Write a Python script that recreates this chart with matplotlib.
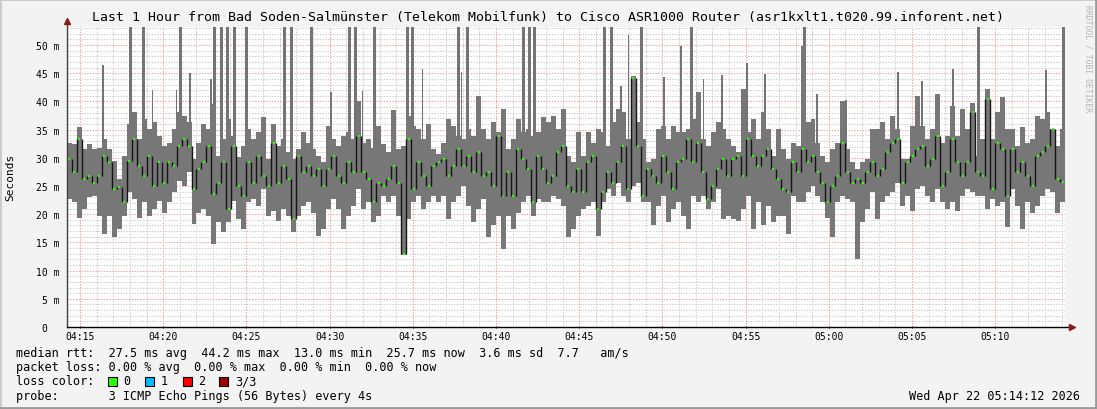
"""SmokePing style latency chart, last hour, Bad Soden-Salmünster -> ASR1000."""
import matplotlib

matplotlib.use("Agg")
import matplotlib.pyplot as plt
from matplotlib.patches import Rectangle
from matplotlib.lines import Line2D
import numpy as np

plt.rcParams["font.family"] = ["DejaVu Sans Mono", "DejaVu Sans"]

# one sample = 18 s (0.3 min), values in ms
hi = [32.7, 32.4, 35.4, 31.6, 32.4, 31.6, 31.8, 33.3, 31.6, 29.5, 26.2, 30.4, 36.0, 38.1, 33.3, 36.9, 35.1,
      36.3, 33.9, 32.1, 32.7, 35.1, 38.1, 37.5, 36.3, 29.8, 32.7, 36.0, 35.1, 39.5, 30.4, 33.3, 36.9,
      33.9, 30.1, 32.1, 35.1, 33.3, 34.5, 37.2, 29.8, 36.0, 32.1, 33.3, 31.0, 29.8, 31.6, 34.5, 32.7,
      31.6, 30.4, 29.2, 35.7, 33.3, 32.1, 33.9, 34.5, 33.3, 40.1, 32.7, 33.3, 31.8, 35.7, 32.4, 31.0, 38.4,
      31.6, 32.1, 37.5, 35.7, 35.1, 33.3, 36.0, 31.6, 30.7, 32.7, 36.9, 35.7, 33.9, 33.3, 35.1, 33.9,
      41.0, 35.1, 33.3, 36.3, 34.5, 38.7, 31.6, 33.3, 36.9, 34.5, 35.1, 33.9, 34.5, 37.2, 36.3, 37.5, 35.1,
      38.7, 30.4, 29.2, 34.5, 30.4, 34.5, 32.7, 35.1, 34.5, 32.1, 36.3, 38.7, 38.1, 33.3, 44.5, 36.3,
      33.3, 29.2, 29.8, 35.1, 35.7, 33.3, 35.7, 34.5, 34.5, 35.1, 36.9, 41.6, 33.3, 32.1, 34.5, 36.3, 35.1, 33.3,
      32.1, 31.0, 42.2, 34.5, 36.9, 33.3, 38.1, 35.1, 30.4, 35.1, 31.6, 29.8, 32.7, 32.1, 49.9, 36.3,
      36.9, 32.7, 30.4, 29.2, 31.6, 32.7, 40.1, 31.6, 29.2, 28.0, 29.2, 29.8, 35.1, 35.1, 36.3, 33.3, 37.5, 35.1,
      29.8, 29.8, 35.7, 41.0, 35.7, 33.3, 35.1, 41.3, 32.7, 33.9, 39.2, 33.9, 38.7, 35.1, 39.8, 30.4,
      33.3, 42.2, 33.3, 38.1, 40.7, 35.1, 35.1, 32.1, 35.4, 32.7, 33.3, 37.5, 36.9, 38.1, 35.1, 32.1, 35.1]
lo = [22.7, 22.1, 19.4, 20.9, 23.0, 23.3, 19.7, 16.5, 19.7, 15.9, 17.4, 19.7, 23.9, 22.7, 19.4, 22.1, 19.7,
      20.9, 22.4, 20.3, 22.1, 23.9, 25.9, 25.0, 27.4, 18.3, 20.3, 20.9, 19.7, 14.7, 18.6, 16.8, 18.6,
      22.4, 19.2, 17.4, 22.1, 22.7, 21.5, 24.5, 19.7, 20.6, 18.8, 20.9, 19.7, 16.8, 19.7, 21.5, 22.1,
      20.3, 16.2, 17.4, 20.9, 22.7, 20.9, 17.4, 19.7, 21.5, 24.5, 20.9, 22.1, 18.6, 19.7, 23.3, 22.1, 23.3,
      19.7, 12.7, 19.2, 22.1, 23.3, 20.9, 22.1, 23.3, 22.1, 23.3, 19.2, 22.1, 23.3, 25.0, 21.5, 18.6,
      20.9, 22.7, 15.9, 18.0, 19.7, 13.8, 19.7, 17.4, 20.3, 22.1, 23.3, 19.7, 22.7, 22.1, 22.1, 23.3, 22.7,
      21.5, 15.9, 17.4, 19.7, 20.9, 21.5, 22.1, 16.2, 22.1, 24.5, 23.3, 25.6, 23.3, 22.1, 25.0, 25.6,
      22.1, 22.1, 18.0, 21.5, 23.3, 18.6, 20.9, 22.1, 19.7, 17.4, 23.3, 22.1, 23.3, 20.9, 22.1, 24.5, 19.2, 19.7,
      19.2, 18.8, 20.9, 23.3, 17.4, 22.1, 18.0, 21.5, 18.6, 19.7, 19.7, 16.5, 23.3, 22.1, 22.1, 23.9,
      25.0, 23.3, 22.1, 19.4, 15.9, 22.1, 23.3, 22.7, 22.1, 12.1, 18.6, 20.9, 23.9, 19.2, 22.1, 23.3, 23.9, 25.6,
      21.5, 23.3, 20.6, 24.5, 25.0, 23.3, 22.1, 24.5, 22.1, 20.9, 22.1, 20.6, 23.3, 24.5, 23.9, 23.3,
      23.3, 20.9, 22.7, 21.5, 22.1, 17.7, 24.5, 21.5, 17.4, 22.1, 20.3, 21.5, 23.3, 24.5, 23.9, 20.3, 22.1]
med = [29.8, 27.4, 33.3, 26.2, 26.8, 25.6, 26.8, 30.4, 29.2, 24.5, 24.8, 22.1, 29.5, 33.3, 28.6, 26.8, 30.4,
       25.0, 29.2, 25.6, 29.2, 28.6, 32.1, 33.3, 32.1, 24.5, 28.0, 29.2, 32.1, 23.6, 25.6, 29.2, 20.9,
       32.1, 25.0, 23.3, 29.2, 25.6, 30.4, 26.8, 25.0, 32.7, 25.6, 28.6, 26.2, 19.2, 30.4, 27.4, 28.6,
       26.8, 28.0, 25.0, 28.0, 30.4, 26.8, 25.6, 29.2, 27.4, 33.9, 27.4, 26.2, 22.1, 25.6, 25.0, 26.2, 28.6,
       25.6, 13.0, 33.3, 24.5, 29.2, 26.8, 25.0, 28.6, 29.2, 29.8, 26.8, 28.6, 31.6, 28.6, 30.4, 27.4,
       31.0, 26.8, 27.4, 25.0, 33.9, 23.3, 27.4, 23.3, 31.6, 29.8, 28.0, 22.1, 30.4, 28.0, 25.6, 26.8, 31.0,
       32.1, 25.0, 23.9, 28.0, 23.9, 29.2, 30.4, 20.9, 23.9, 27.4, 25.6, 29.2, 32.1, 24.5, 44.2, 32.1,
       23.3, 28.0, 26.8, 25.6, 30.4, 27.4, 24.5, 29.2, 29.8, 33.3, 29.2, 32.7, 27.4, 22.7, 25.0, 28.0, 29.8, 26.8,
       29.8, 30.4, 26.8, 33.3, 30.4, 28.6, 30.4, 31.6, 28.0, 26.2, 24.5, 23.9, 29.2, 27.4, 31.6, 29.2,
       30.4, 27.4, 25.6, 22.1, 25.0, 26.8, 32.7, 27.4, 25.6, 26.2, 25.6, 27.4, 29.2, 26.8, 28.0, 31.0, 32.7, 33.3,
       25.6, 29.2, 30.4, 31.6, 32.1, 28.6, 29.8, 33.9, 25.0, 27.4, 33.3, 29.2, 26.8, 29.2, 38.1, 27.4,
       26.8, 40.4, 24.5, 32.7, 31.6, 23.3, 31.6, 27.4, 29.2, 26.8, 25.0, 30.4, 31.0, 32.1, 35.1, 26.2, 25.7]

# single pings far above the plot top (minutes after 04:14:12)
spike_full = [3.83, 4.62, 6.84, 8.87, 9.30, 9.69, 10.07, 10.81, 13.08, 13.48, 14.70, 16.98, 17.33, 18.49,
              20.48, 20.81, 23.52, 24.09, 27.46, 27.80, 28.11, 32.31, 32.77, 34.54, 37.55, 44.31, 54.77, 59.92]
# thinner pings that end inside the plot
spike_t = [2.18, 5.17, 6.61, 7.41, 8.67, 15.88, 17.79, 21.37, 23.74, 33.31, 33.77, 35.90, 36.92, 38.28,
           39.38, 40.88, 41.97, 45.09, 46.84, 49.96, 51.40, 52.34, 53.26, 55.30, 56.14, 58.85]
spike_v = [46.4, 42.0, 42.0, 45.1, 43.9, 41.7, 41.8, 45.8, 45.3, 42.8, 51.7, 44.3, 49.9, 44.0,
           44.6, 46.9, 44.9, 41.3, 40.3, 45.2, 43.7, 41.3, 45.7, 42.2, 40.7, 45.5]

tick_pos = [0.8, 5.8, 10.8, 15.8, 20.8, 25.8, 30.8, 35.8, 40.8, 45.8, 50.8, 55.8]
tick_labels = ["04:15", "04:20", "04:25", "04:30", "04:35", "04:40", "04:45", "04:50", "04:55",
               "05:00", "05:05", "05:10"]
y_ticks = [0, 5, 10, 15, 20, 25, 30, 35, 40, 45, 50]
y_labels = ["0  ", "5 m", "10 m", "15 m", "20 m", "25 m", "30 m", "35 m", "40 m", "45 m", "50 m"]

loss_colors = ["#26ff00", "#00b8ff", "#ff0000", "#a00000"]
loss_names = ["0", "1", "2", "3/3"]

title = ("Last 1 Hour from Bad Soden-Salmünster (Telekom Mobilfunk) to Cisco ASR1000 Router "
         "(asr1kxlt1.t020.99.inforent.net)")
line_rtt = "median rtt:  27.5 ms avg  44.2 ms max  13.0 ms min  25.7 ms now  3.6 ms sd  7.7   am/s"
line_loss = "packet loss: 0.00 % avg  0.00 % max  0.00 % min  0.00 % now"
line_probe = "probe:       3 ICMP Echo Pings (56 Bytes) every 4s"
stamp = "Wed Apr 22 05:14:12 2026"

W, H = 1097, 410
fig = plt.figure(figsize=(W / 100, H / 100), dpi=100, facecolor="#f3f3f3")
ax = fig.add_axes([66.7 / W, 82 / H, 998.4 / W, 300 / H])
ax.set_facecolor("white")

dt = 0.3
n = len(hi)
edges = np.arange(n + 1) * dt
t = edges[:-1]
hi, lo, med = np.array(hi), np.array(lo), np.array(med)

# dotted grid
dots = (0, (1.4, 1.4))
for v in np.arange(1, 54):
    major = v % 5 == 0
    ax.axhline(v, color="#f4a0a0" if major else "#cccccc", lw=0.72, ls=dots, zorder=1)
for m in np.arange(0.8, 60, 1.0):
    major = abs((m - 0.8) % 5) < 1e-6
    ax.axvline(m, color="#f4a0a0" if major else "#cccccc", lw=0.72, ls=dots, zorder=1)

ax.bar(spike_full, 80, bottom=28, width=0.18, color="#747474", lw=0, zorder=2)
ax.bar(spike_t, np.array(spike_v) - 28, bottom=28, width=0.09, color="#747474", lw=0, zorder=2)
ax.stairs(hi, edges, baseline=lo, fill=True, color="#777777", lw=0, zorder=2)

ax.vlines(edges[1:-1], med[:-1], med[1:], color="#151515", lw=1.0, zorder=3)
ax.hlines(med, t + 0.3 * dt, t + 0.7 * dt, color=loss_colors[0], lw=1.6, zorder=3)

ax.set_xlim(0, 60)
ax.set_ylim(0, 53.2)
for s in ax.spines.values():
    s.set_visible(False)
ax.set_xticks(tick_pos, tick_labels, fontsize=7)
ax.set_yticks(y_ticks, y_labels, fontsize=7)
ax.tick_params(axis="x", length=2, width=0.7, pad=2, direction="inout")
ax.tick_params(axis="y", length=0, pad=5)

ax.add_line(Line2D([0, 0], [0, 1.02], transform=ax.transAxes, color="#404040", lw=1, clip_on=False, zorder=6))
ax.add_line(Line2D([0, 1.007], [0, 0], transform=ax.transAxes, color="black", lw=1, clip_on=False, zorder=6))
ax.plot([0], [1.02], marker="^", ms=5, color="#8b1a1a", transform=ax.transAxes, clip_on=False, zorder=7)
ax.plot([1.007], [0], marker=">", ms=5, color="#8b1a1a", transform=ax.transAxes, clip_on=False, zorder=7)

fig.text(0.5, 1 - 18 / H, title, ha="center", va="center", fontsize=9.5)
fig.text(10 / W, 1 - 177 / H, "Seconds", rotation=90, ha="center", va="center", fontsize=8)
fig.text(1088 / W, 1 - 59 / H, "RRDTOOL / TOBI OETIKER", rotation=-90, ha="center", va="center",
         fontsize=5.8, color="#b4b4b4")

x0 = 16 / W
fig.text(x0, 1 - 354 / H, line_rtt, va="center", fontsize=8.5)
fig.text(x0, 1 - 368 / H, line_loss, va="center", fontsize=8.5)
fig.text(x0, 1 - 382 / H, "loss color:", va="center", fontsize=8.5)
fig.text(x0, 1 - 396.5 / H, line_probe, va="center", fontsize=8.5)
fig.text(1080 / W, 1 - 396.5 / H, stamp, ha="right", va="center", fontsize=8.5)

box_x = [108, 145, 182.7, 219.3]
for bx, c, name in zip(box_x, loss_colors, loss_names):
    fig.patches.append(Rectangle((bx / W, 1 - 387 / H), 9 / W, 9.5 / H, transform=fig.transFigure,
                                 facecolor=c, edgecolor="black", lw=0.8))
    fig.text((bx + 15.5) / W, 1 - 382 / H, name, va="center", fontsize=8.5)

# rrdtool frame
fig.add_artist(Line2D([0, 1], [1 - 1 / H, 1 - 1 / H], color="#cccccc", lw=1.5))
fig.add_artist(Line2D([1 / W, 1 / W], [0, 1], color="#cccccc", lw=1.5))
fig.add_artist(Line2D([0, 1], [1.5 / H, 1.5 / H], color="#9a9a9a", lw=2))
fig.add_artist(Line2D([1 - 1.5 / W, 1 - 1.5 / W], [0, 1], color="#9a9a9a", lw=2))

fig.savefig("out.png", dpi=100, facecolor=fig.get_facecolor())
